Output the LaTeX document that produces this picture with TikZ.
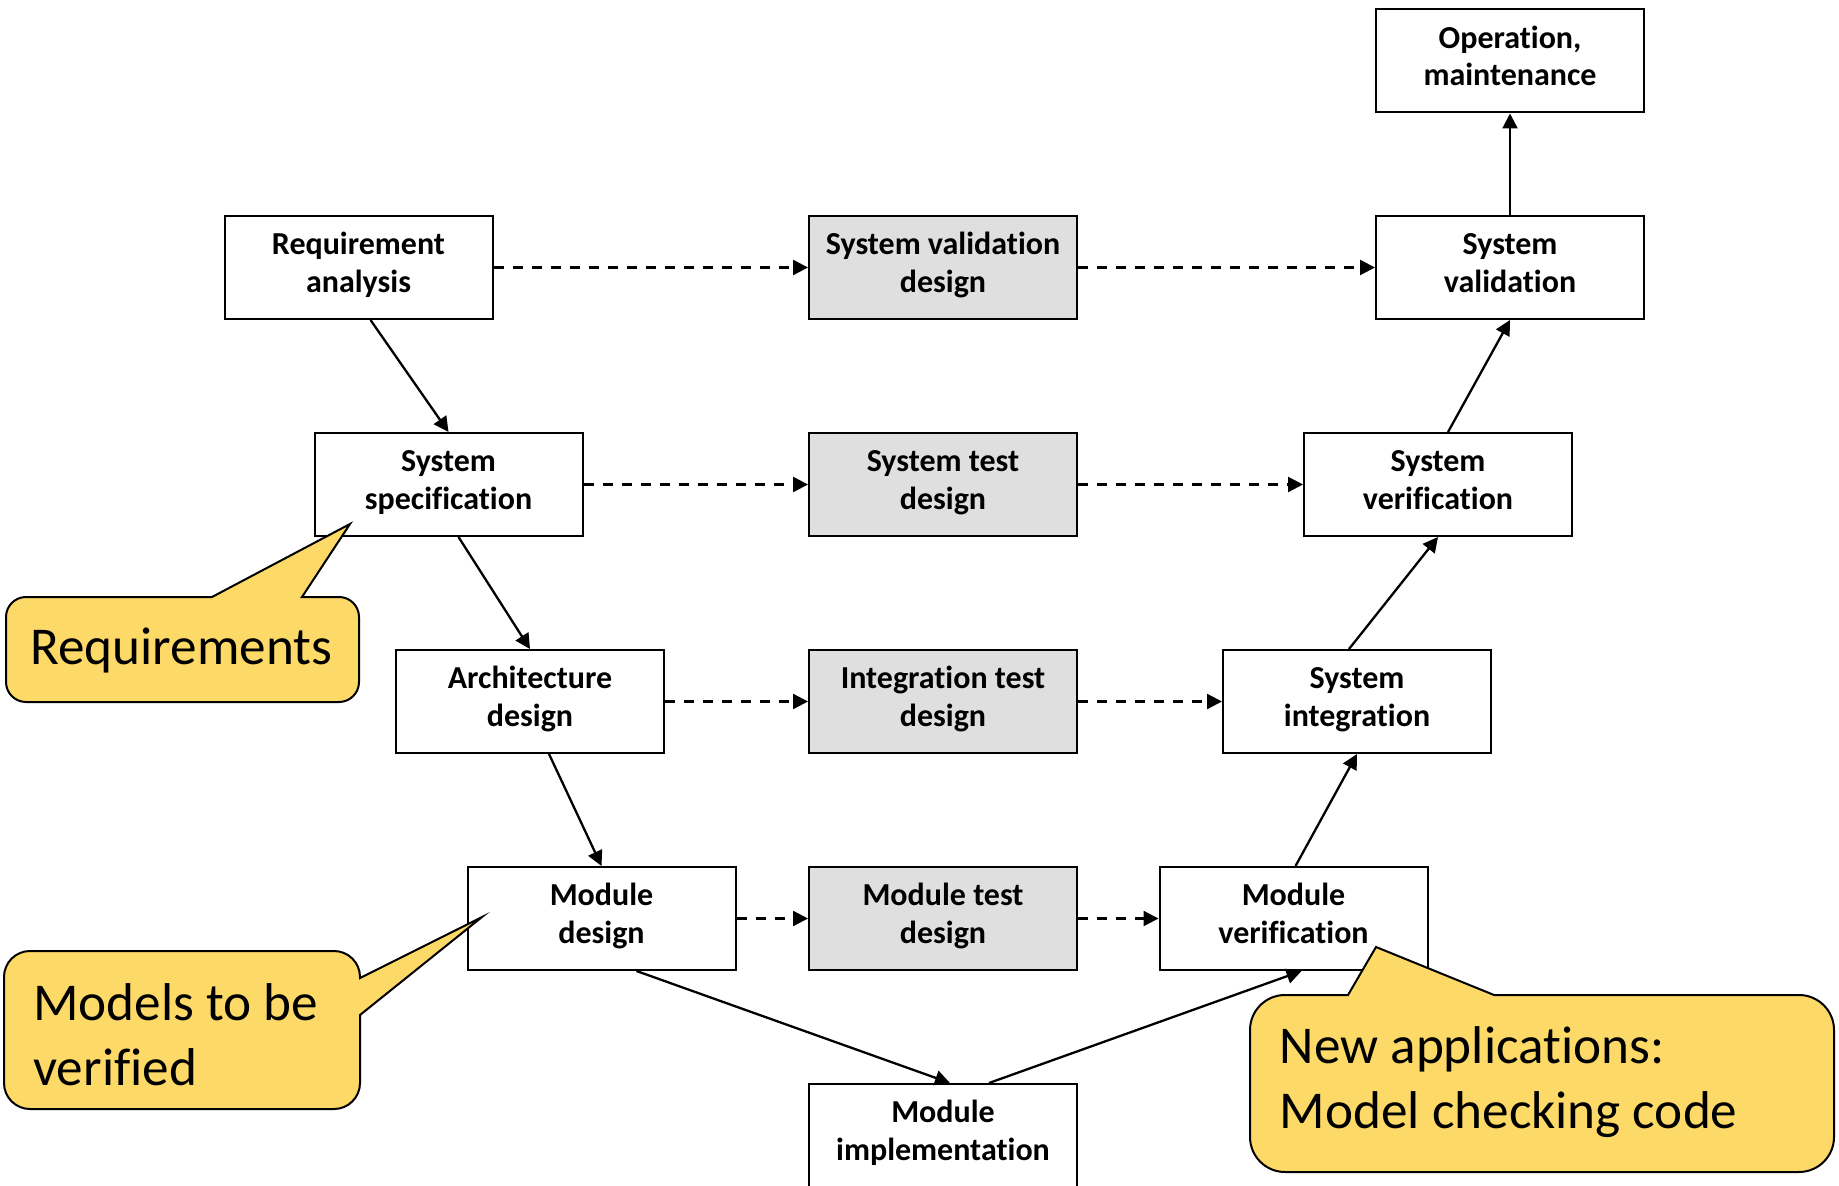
\documentclass[tikz,border=0pt]{standalone}
\usepackage{fontspec}
\setmainfont{Carlito}[Ligatures=NoCommon]
\usetikzlibrary{arrows.meta}

\definecolor{calloutfill}{RGB}{253,217,104}
\definecolor{testfill}{RGB}{223,223,223}

% fixed-height line so every two-line box is centred the same way
\newcommand\rowstrut{\rule[-5.9pt]{0pt}{18pt}}

\tikzset{
  stage/.style={draw, line width=1pt, minimum width=134pt, minimum height=51.5pt,
    inner sep=0pt, align=center,
    font=\fontsize{16pt}{18.75pt}\selectfont\bfseries},
  testdesign/.style={stage, fill=testfill},
  flow/.style={line width=1.15pt, -{Triangle[length=7.5pt,width=7.5pt]}},
  trace/.style={flow, dash pattern=on 5pt off 4.5pt},
  callout/.style={draw, line width=1pt, fill=calloutfill, line join=miter},
  note/.style={font=\fontsize{26.6pt}{32.25pt}\selectfont, align=left, inner sep=0pt}
}

\begin{document}
\begin{tikzpicture}[x=0.5pt, y=-0.5pt]
  \useasboundingbox (0,0) rectangle (1839,1186);

  % left branch: specification and design
  \node[stage] (req)    at (358.5,267.5) {\rowstrut Requirement\\\rowstrut analysis};
  \node[stage] (spec)   at (448.5,484.5) {\rowstrut System\\\rowstrut specification};
  \node[stage] (arch)   at (530,701.5)   {\rowstrut Architecture\\\rowstrut design};
  \node[stage] (moddes) at (601.5,918.5) {\rowstrut Module\\\rowstrut design};

  % middle column: test design
  \node[testdesign] (valdes)  at (943,267.5) {\rowstrut System validation\\\rowstrut design};
  \node[testdesign] (testdes) at (943,484.5) {\rowstrut System test\\\rowstrut design};
  \node[testdesign] (intdes)  at (943,701.5) {\rowstrut Integration test\\\rowstrut design};
  \node[testdesign] (moddesT) at (943,918.5) {\rowstrut Module test\\\rowstrut design};

  % bottom
  \node[stage] (impl) at (943,1135.5) {\rowstrut Module\\\rowstrut implementation};

  % right branch: integration and verification
  \node[stage] (modver) at (1293.5,918.5) {\rowstrut Module\\\rowstrut verification};
  \node[stage] (sysint) at (1357,701.5)   {\rowstrut System\\\rowstrut integration};
  \node[stage] (sysver) at (1438,484.5)   {\rowstrut System\\\rowstrut verification};
  \node[stage] (sysval) at (1510,267.5)   {\rowstrut System\\\rowstrut validation};
  \node[stage] (op)     at (1510,61)      {\rowstrut Operation,\\\rowstrut maintenance};

  % development flow
  \draw[flow] ([xshift=6pt]req.south)     -- (spec.north);
  \draw[flow] ([xshift=5pt]spec.south)    -- (arch.north);
  \draw[flow] ([xshift=9.5pt]arch.south)  -- (moddes.north);
  \draw[flow] ([xshift=17.5pt]moddes.south) -- ([xshift=3.5pt]impl.north);
  \draw[flow] ([xshift=23pt]impl.north)   -- ([xshift=4pt]modver.south);
  \draw[flow] ([xshift=1pt]modver.north)  -- (sysint.south);
  \draw[flow] ([xshift=-4pt]sysint.north) -- (sysver.south);
  \draw[flow] ([xshift=5pt]sysver.north)  -- (sysval.south);
  \draw[flow] (sysval.north) -- (op.south);

  % test design traces
  \draw[trace] (req.east)    -- (valdes.west);
  \draw[trace] (valdes.east) -- (sysval.west);
  \draw[trace] (spec.east)    -- (testdes.west);
  \draw[trace] (testdes.east) -- (sysver.west);
  \draw[trace] (arch.east)   -- (intdes.west);
  \draw[trace] (intdes.east) -- (sysint.west);
  \draw[trace] (moddes.east)  -- (moddesT.west);
  \draw[trace] (moddesT.east) -- (modver.west);

  % callouts
  \draw[callout] (26,597) -- (212,597) -- (350,524) -- (302,597) -- (339,597)
    arc[start angle=-90, end angle=0, radius=20] -- (359,682)
    arc[start angle=0, end angle=90, radius=20] -- (26,702)
    arc[start angle=90, end angle=180, radius=20] -- (6,617)
    arc[start angle=180, end angle=270, radius=20] -- cycle;
  \node[note, anchor=base west] (reqnote) at (30,664) {Requirements};

  \draw[callout] (30,951) -- (334,951)
    arc[start angle=-90, end angle=0, radius=26] -- (360,978) -- (482,917) -- (360,1015) -- (360,1083)
    arc[start angle=0, end angle=90, radius=26] -- (30,1109)
    arc[start angle=90, end angle=180, radius=26] -- (4,977)
    arc[start angle=180, end angle=270, radius=26] -- cycle;
  \node[note, anchor=base west] (modnote) at (33,1085) {Models to be\\verified};

  \draw[callout] (1285,995) -- (1348,995) -- (1376,947) -- (1494,995) -- (1799,995)
    arc[start angle=-90, end angle=0, radius=35] -- (1834,1137)
    arc[start angle=0, end angle=90, radius=35] -- (1285,1172)
    arc[start angle=90, end angle=180, radius=35] -- (1250,1030)
    arc[start angle=180, end angle=270, radius=35] -- cycle;
  \node[note, anchor=base west] (codenote) at (1279.5,1128) {New applications:\\Model checking code};
\end{tikzpicture}
\end{document}
